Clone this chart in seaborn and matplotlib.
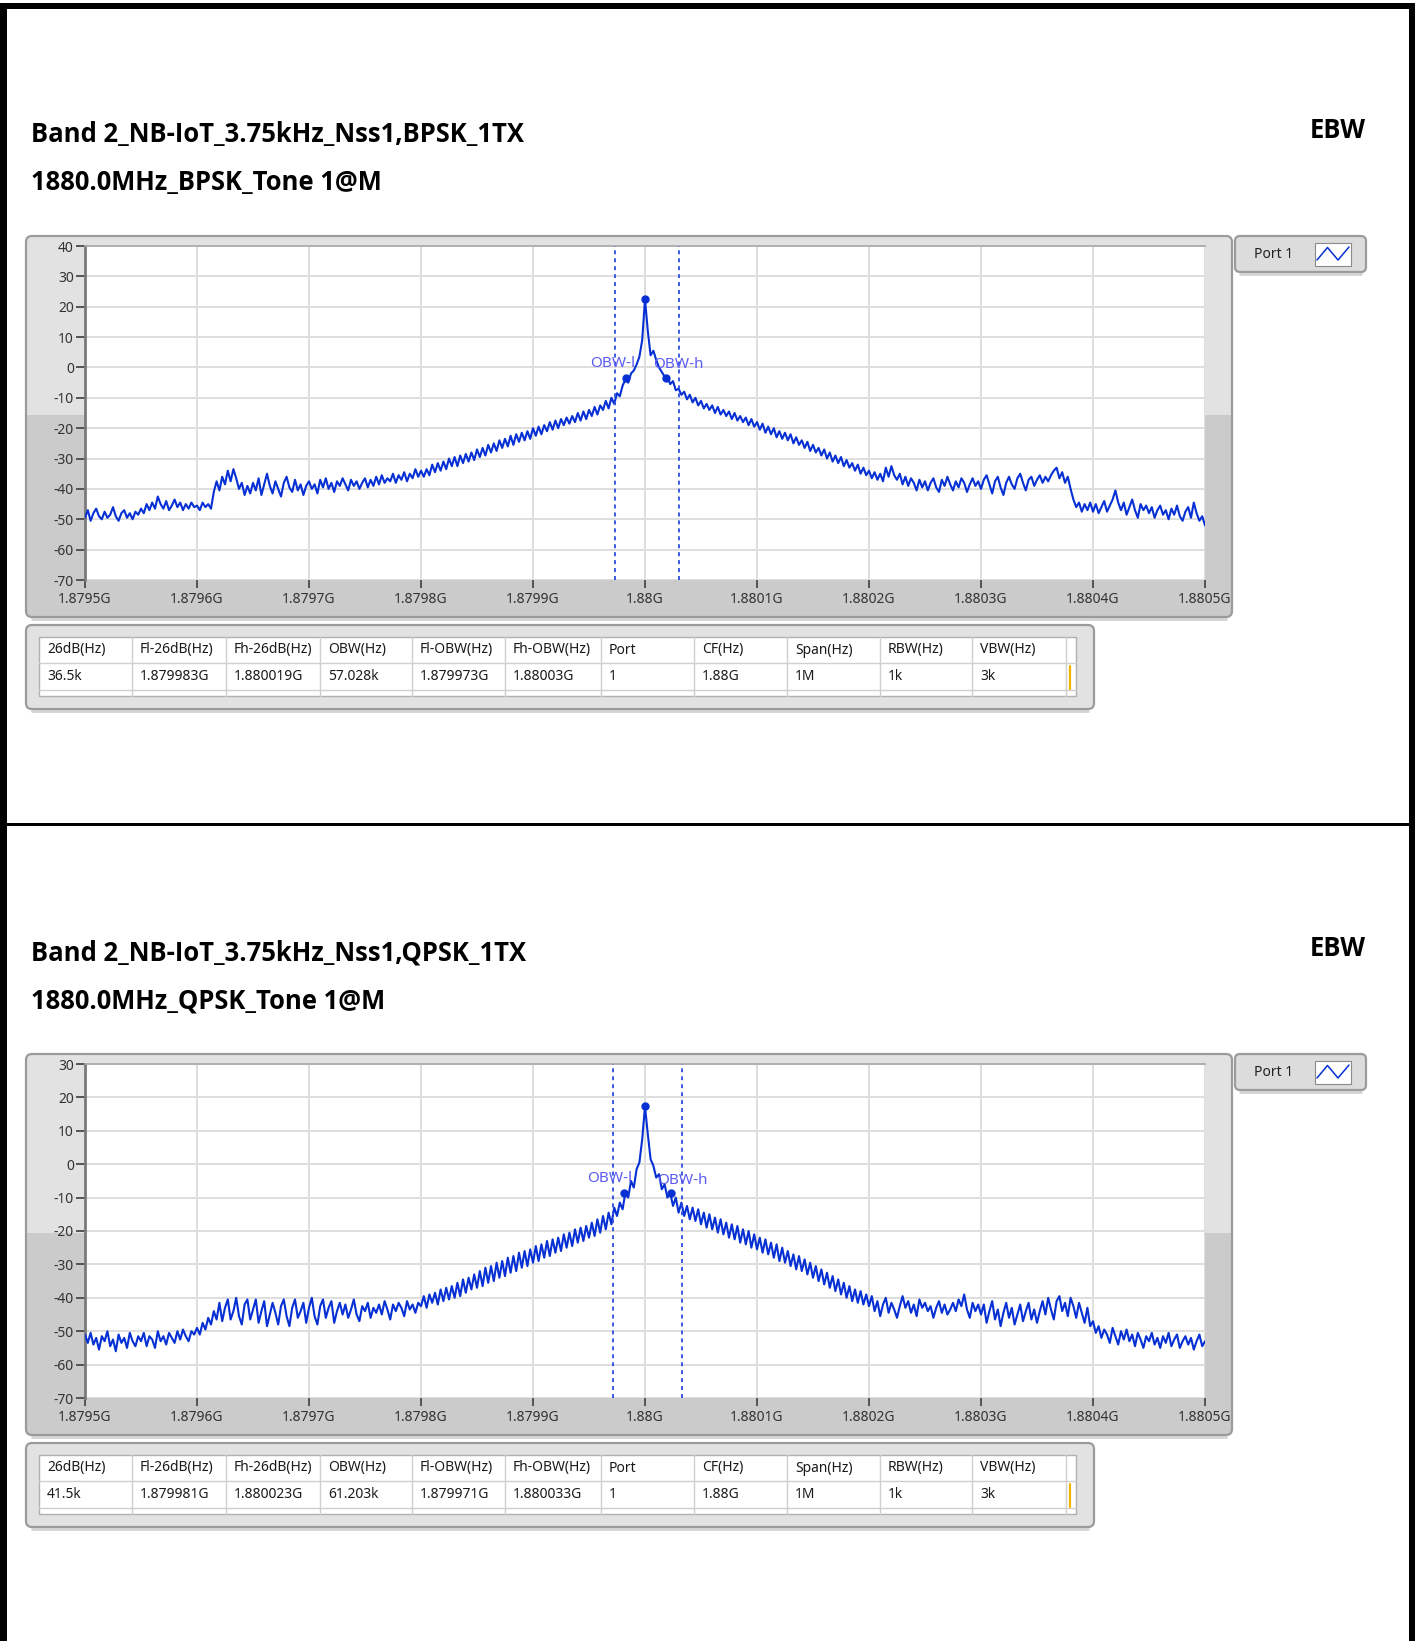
import numpy as np
import pandas as pd
import matplotlib
matplotlib.use("Agg")
import matplotlib.pyplot as plt
import seaborn as sns
from matplotlib.patches import FancyBboxPatch, Rectangle
from matplotlib import font_manager

# ---------------------------------------------------------------- data
CENTER_HZ = 1.88e9
FREQ_START_KHZ = -500.0
FREQ_STEP_KHZ = 2.5

x_tick_labels = ['1.8795G', '1.8796G', '1.8797G', '1.8798G', '1.8799G', '1.88G',
                 '1.8801G', '1.8802G', '1.8803G', '1.8804G', '1.8805G']
bpsk_y_ticks = [40, 30, 20, 10, 0, -10, -20, -30, -40, -50, -60, -70]
qpsk_y_ticks = [30, 20, 10, 0, -10, -20, -30, -40, -50, -60, -70]

table_header = ['26dB(Hz)', 'Fl-26dB(Hz)', 'Fh-26dB(Hz)', 'OBW(Hz)', 'Fl-OBW(Hz)',
                'Fh-OBW(Hz)', 'Port', 'CF(Hz)', 'Span(Hz)', 'RBW(Hz)', 'VBW(Hz)']
bpsk_table = ['36.5k', '1.879983G', '1.880019G', '57.028k', '1.879973G', '1.88003G',
              '1', '1.88G', '1M', '1k', '3k']
qpsk_table = ['41.5k', '1.879981G', '1.880023G', '61.203k', '1.879971G', '1.880033G',
              '1', '1.88G', '1M', '1k', '3k']

bpsk_title = ['Band 2_NB-IoT_3.75kHz_Nss1,BPSK_1TX', '1880.0MHz_BPSK_Tone 1@M']
qpsk_title = ['Band 2_NB-IoT_3.75kHz_Nss1,QPSK_1TX', '1880.0MHz_QPSK_Tone 1@M']

# trace levels (dBm), one point every 2.5 kHz from -500 kHz to +500 kHz
bpsk_level = [
    -49.5, -47.0, -50.5, -48.0, -46.5, -49.0, -50.0, -47.5, -49.5, -48.5, -46.0, -49.0, -50.5, -48.0, -47.0, -49.5, -48.0, -50.0, -47.5, -48.5,
    -46.5, -48.0, -45.0, -47.0, -44.5, -46.5, -42.5, -45.0, -46.5, -44.0, -47.0, -45.5, -43.5, -46.0, -44.5, -47.0, -45.0, -46.5, -44.5, -46.0,
    -45.5, -47.0, -44.5, -46.0, -45.0, -46.5, -41.0, -37.5, -40.5, -36.0, -38.5, -34.0, -37.5, -33.5, -36.5, -40.0, -38.0, -42.0, -39.0, -41.5,
    -38.0, -40.5, -36.5, -42.0, -38.5, -35.0, -39.0, -41.5, -37.5, -40.0, -42.5, -38.0, -36.0, -39.5, -41.0, -37.0, -40.5, -38.5, -42.0, -39.0,
    -37.5, -40.0, -38.5, -41.5, -37.0, -39.5, -36.5, -40.0, -38.0, -41.0, -37.5, -39.0, -36.5, -38.5, -40.5, -37.0, -39.0, -37.5, -40.0, -38.0,
    -36.5, -39.5, -37.0, -39.0, -36.0, -38.5, -35.5, -38.0, -36.5, -37.5, -35.0, -38.0, -35.5, -37.0, -34.5, -37.5, -35.0, -36.5, -33.5, -36.0,
    -34.0, -36.0, -33.5, -35.5, -32.0, -34.5, -31.5, -34.0, -31.0, -33.5, -30.0, -32.5, -29.5, -32.5, -29.0, -31.5, -28.5, -31.0, -28.0, -30.5,
    -27.0, -29.5, -26.5, -29.0, -25.5, -28.0, -25.0, -27.5, -24.0, -26.5, -23.5, -26.0, -22.5, -25.5, -22.0, -24.5, -21.5, -24.0, -21.0, -23.5,
    -20.0, -22.5, -19.5, -22.0, -19.0, -21.0, -18.0, -20.5, -17.5, -20.0, -17.0, -19.0, -16.5, -18.5, -16.0, -18.0, -15.0, -17.5, -14.5, -17.0,
    -14.0, -16.0, -13.0, -15.5, -12.5, -14.0, -11.0, -13.5, -10.0, -12.0, -8.5, -9.5, -6.0, -4.0, -5.0, -2.0, -1.0, 1.0, 3.5, 9.0,
    22.5, 12.0, 4.0, 5.5, 2.5, 0.0, -1.5, -3.0, -3.0, -5.5, -4.5, -7.5, -7.0, -9.0, -8.0, -10.5, -9.0, -11.5, -10.0, -12.5,
    -11.0, -13.5, -12.0, -14.0, -12.5, -15.0, -13.0, -15.5, -14.0, -16.0, -14.5, -17.0, -15.0, -17.5, -16.0, -18.0, -16.5, -19.0, -17.0, -19.5,
    -18.0, -20.5, -18.5, -21.5, -19.5, -22.0, -20.0, -23.0, -21.0, -23.5, -21.5, -24.0, -22.0, -25.0, -23.0, -25.5, -24.0, -26.5, -24.5, -27.5,
    -25.5, -28.0, -26.5, -29.0, -27.0, -30.0, -28.0, -31.0, -29.0, -31.5, -29.5, -32.5, -30.5, -33.0, -31.5, -34.0, -32.0, -35.0, -33.0, -35.5,
    -34.0, -36.5, -34.5, -37.0, -35.0, -37.5, -33.0, -36.0, -32.5, -35.5, -37.0, -35.0, -38.5, -36.0, -39.0, -36.5, -38.0, -40.5, -37.0, -39.5,
    -37.5, -40.5, -38.0, -36.5, -39.5, -41.0, -37.0, -39.0, -36.0, -38.5, -40.5, -37.5, -39.5, -36.5, -38.0, -41.0, -38.5, -36.5, -39.0, -37.5,
    -40.0, -37.0, -35.5, -38.5, -41.5, -37.5, -36.0, -39.5, -42.0, -38.0, -36.0, -38.5, -40.0, -36.5, -35.0, -38.0, -40.5, -37.0, -36.0, -39.0,
    -37.0, -35.5, -38.0, -36.0, -37.5, -35.5, -34.0, -33.0, -36.5, -34.5, -38.0, -36.0, -40.0, -43.5, -46.0, -44.5, -47.5, -45.0, -47.0, -44.5,
    -47.5, -45.0, -48.0, -46.0, -44.0, -47.5, -45.5, -43.5, -40.5, -44.5, -47.0, -44.5, -48.5, -46.0, -43.5, -47.0, -49.5, -45.0, -47.0, -45.5,
    -48.0, -46.0, -49.5, -47.0, -45.5, -48.5, -47.0, -50.0, -46.5, -48.5, -45.5, -49.0, -50.5, -47.5, -46.0, -49.5, -44.5, -48.0, -50.5, -49.0,
    -52.0,
]

qpsk_level = [
    -51.0, -53.5, -50.5, -54.0, -52.0, -55.5, -51.5, -53.0, -50.0, -54.5, -52.5, -56.0, -51.0, -53.5, -52.0, -55.0, -50.5, -53.0, -54.5, -51.5,
    -53.0, -50.5, -54.5, -51.5, -52.5, -55.0, -50.0, -53.0, -51.5, -54.0, -50.5, -52.0, -53.5, -50.0, -52.5, -49.5, -51.5, -53.0, -50.0, -51.0,
    -49.0, -51.0, -47.5, -49.5, -46.0, -48.0, -44.0, -46.5, -41.5, -47.0, -43.0, -40.5, -46.5, -44.0, -40.0, -45.5, -48.0, -42.0, -40.5, -46.5,
    -43.5, -40.5, -47.5, -44.0, -41.0, -48.5, -45.0, -41.5, -44.5, -48.0, -42.5, -40.5, -45.5, -48.5, -43.0, -40.5, -46.0, -44.0, -41.5, -47.5,
    -43.0, -40.0, -45.5, -48.0, -42.5, -40.5, -46.0, -43.0, -41.0, -47.5, -44.0, -41.5, -45.0, -42.0, -46.0, -43.5, -40.5, -45.0, -47.0, -42.5,
    -44.0, -41.5, -46.0, -43.0, -44.5, -42.0, -45.0, -41.0, -43.5, -46.5, -42.0, -44.0, -41.5, -43.0, -45.5, -41.0, -43.5, -42.0, -44.5, -41.5,
    -42.5, -39.5, -43.0, -39.0, -41.5, -38.5, -42.0, -37.5, -41.0, -37.0, -40.5, -36.5, -40.0, -35.5, -39.5, -34.5, -38.5, -34.0, -37.5, -33.0,
    -37.0, -32.0, -36.5, -31.0, -35.5, -30.5, -35.0, -29.5, -34.0, -29.0, -33.5, -28.0, -32.5, -27.5, -32.0, -26.5, -31.0, -26.0, -30.5, -25.5,
    -29.5, -24.5, -29.0, -24.0, -28.0, -23.0, -27.5, -22.5, -26.5, -22.0, -26.0, -21.0, -25.0, -20.5, -24.5, -19.5, -23.5, -19.0, -23.0, -18.5,
    -22.0, -17.5, -21.5, -16.5, -20.5, -15.5, -19.5, -14.5, -18.0, -13.0, -15.5, -11.5, -13.5, -8.5, -10.0, -5.0, -7.0, -1.5, 0.5, 7.5,
    17.3, 9.0, 1.5, -0.5, -4.0, -3.0, -7.5, -6.0, -10.0, -8.5, -12.5, -10.0, -14.5, -11.5, -15.5, -12.5, -16.5, -13.0, -17.0, -13.5,
    -18.0, -14.5, -19.0, -15.0, -19.5, -16.0, -20.5, -16.5, -21.0, -17.5, -22.0, -18.0, -22.5, -18.5, -23.5, -19.5, -24.0, -20.0, -25.0, -21.0,
    -25.5, -22.0, -26.5, -22.5, -27.0, -23.5, -28.0, -24.0, -29.0, -25.0, -29.5, -26.0, -30.5, -27.0, -31.5, -27.5, -32.0, -28.5, -33.0, -29.5,
    -34.0, -30.5, -35.0, -31.5, -36.0, -32.5, -37.0, -33.5, -38.0, -34.5, -39.0, -35.5, -40.0, -36.5, -41.0, -37.5, -41.5, -38.0, -42.0, -39.0,
    -42.5, -39.5, -44.0, -41.0, -45.5, -42.0, -40.0, -44.5, -41.5, -43.5, -46.0, -42.5, -39.5, -43.0, -41.0, -44.5, -42.0, -45.5, -40.5, -43.0,
    -41.5, -44.0, -42.5, -46.0, -43.0, -41.0, -44.5, -42.0, -45.0, -43.5, -41.5, -44.0, -40.5, -42.5, -39.0, -43.5, -46.0, -41.5, -44.0, -42.0,
    -45.0, -42.0, -47.5, -44.0, -41.0, -46.5, -43.5, -48.5, -44.5, -41.5, -46.0, -43.0, -48.0, -45.0, -42.0, -47.0, -44.0, -41.5, -46.5, -43.5,
    -47.5, -44.0, -41.0, -45.0, -40.0, -43.5, -46.5, -41.0, -39.5, -44.0, -41.5, -45.5, -40.0, -42.5, -46.0, -41.5, -44.5, -47.5, -43.0, -48.5,
    -47.0, -50.5, -48.5, -52.0, -49.5, -51.0, -53.5, -49.0, -51.5, -54.0, -50.0, -52.5, -49.5, -53.0, -51.0, -54.5, -50.5, -52.5, -55.0, -51.5,
    -53.0, -50.5, -54.0, -52.0, -55.0, -51.5, -53.5, -50.5, -54.5, -52.5, -51.0, -55.0, -53.0, -51.5, -54.0, -52.0, -55.5, -53.0, -51.0, -54.5,
    -53.0,
]

# ---------------------------------------------------------------- style
W, H = 1415, 1641
TRACE = '#0630d4'
MARK_TXT = '#5b5bf2'
DASH = '#2a4ee0'

sns.set_theme(style='white')
plt.rcParams['font.family'] = ['Noto Sans', 'DejaVu Sans']


def bold_family():
    # pick an installed family that really has a bold face
    for fam in ['Open Sans', 'Noto Sans', 'Lato', 'Roboto', 'Liberation Sans', 'DejaVu Sans']:
        for f in font_manager.fontManager.ttflist:
            if f.name == fam and f.weight in (700, 'bold') and f.style == 'normal':
                return fam
    return 'DejaVu Sans'


TITLE_FAMILY = bold_family()

fig = plt.figure(figsize=(W / 100, H / 100), dpi=100)
fig.patch.set_facecolor('white')
renderer = fig.canvas.get_renderer()

bg = fig.add_axes([0, 0, 1, 1], zorder=0)
bg.set_xlim(0, W)
bg.set_ylim(H, 0)
bg.axis('off')


def si(s):
    mult = {'G': 1e9, 'M': 1e6, 'k': 1e3}
    return float(s[:-1]) * mult[s[-1]] if s[-1] in mult else float(s)


def box(x0, y0, x1, y1):
    return [x0 / W, 1 - y1 / H, (x1 - x0) / W, (y1 - y0) / H]


def framed_box(x, y, w, h, split=None, light='#e2e2e2', dark='#cbcbcb', r=6):
    face = FancyBboxPatch((x, y), w, h, boxstyle=f'round,pad=0,rounding_size={r}',
                          fc=light, ec='none', zorder=1)
    bg.add_patch(face)
    if split is not None:
        low = Rectangle((x, split), w, y + h - split, fc=dark, ec='none', zorder=1.1)
        low.set_clip_path(face)
        bg.add_patch(low)
    bg.add_patch(FancyBboxPatch((x, y), w, h, boxstyle=f'round,pad=0,rounding_size={r}',
                                fc='none', ec='#9b9b9b', lw=1.6, zorder=1.2))
    # soft shadow along the bottom edge
    bg.plot([x + r, x + w - r], [y + h + 2, y + h + 2], color='#d4d4d4', lw=2, zorder=0.9)


# outer black frame and separator
for rect in [(0, 3, W, 6), (0, 3, 6.5, H), (W - 6, 3, 6, H), (0, 822.5, W, 3.5)]:
    bg.add_patch(Rectangle(rect[:2], rect[2], rect[3], fc='black', ec='none', zorder=5))

xticks_hz = [si(t) for t in x_tick_labels]
col_edges = [39, 132, 226, 320, 412, 505, 601, 694, 787, 880, 972, 1066, 1076]

title_size = None


def draw_panel(dy, titles, level, y_ticks, table_vals):
    global title_size
    tkw = dict(fontweight='bold', family=TITLE_FAMILY, color='black', va='center', ha='left', zorder=6)
    t1 = bg.text(31, 135 + dy, titles[0], fontsize=17, **tkw)
    if title_size is None:
        w = t1.get_window_extent(renderer).width
        title_size = 17 * 495 / w
    t1.set_fontsize(title_size)
    bg.text(31, 183 + dy, titles[1], fontsize=title_size, **tkw)
    bg.text(1310, 130 + dy, 'EBW', fontsize=title_size, **tkw)

    # graph frame
    framed_box(26, 236 + dy, 1206, 381, split=415 + dy)

    ax = fig.add_axes(box(85, 246 + dy, 1205, 580 + dy), zorder=3)
    ax.set_facecolor('white')
    offsets_khz = FREQ_START_KHZ + FREQ_STEP_KHZ * np.arange(len(level))
    df = pd.DataFrame({'freq': CENTER_HZ + offsets_khz * 1e3, 'level': level})
    sns.lineplot(data=df, x='freq', y='level', ax=ax, color=TRACE, lw=1.5,
                 estimator=None, sort=False, legend=False, zorder=4)
    ax.set_xlim(xticks_hz[0], xticks_hz[-1])
    ax.set_ylim(y_ticks[-1], y_ticks[0])
    ax.set_xticks(xticks_hz, labels=x_tick_labels)
    ax.set_yticks(y_ticks, labels=[str(v) for v in y_ticks])
    ax.set_xlabel('')
    ax.set_ylabel('')
    ax.grid(True, color='#dedede', lw=1.4)
    ax.set_axisbelow(True)
    for side in ['right', 'bottom']:
        ax.spines[side].set_visible(False)
    ax.spines['left'].set_color('#7a7a7a')
    ax.spines['left'].set_linewidth(2.0)
    ax.spines['top'].set_color('#a8a8a8')
    ax.spines['top'].set_linewidth(1.2)
    ax.tick_params(axis='y', length=6.5, width=1.3, color='#4a4a4a', pad=1.5,
                   labelsize=10, labelcolor='#333333', left=True)
    ax.tick_params(axis='x', length=5.5, width=1.3, color='#4a4a4a', pad=3,
                   labelsize=10, labelcolor='#333333', bottom=True)

    # OBW limits, peak and -26 dB points
    fl26, fh26 = si(table_vals[1]), si(table_vals[2])
    fl_obw, fh_obw = si(table_vals[4]), si(table_vals[5])
    peak = max(level)
    peak_f = df['freq'][df['level'].idxmax()]
    for f in (fl_obw, fh_obw):
        ax.axvline(f, color=DASH, lw=1.3, ls=(0, (2.2, 2.2)), zorder=5)
    ax.plot([peak_f], [peak], 'o', color=TRACE, ms=5, zorder=6)
    ax.plot([fl26, fh26], [peak - 26, peak - 26], 'o', color=TRACE, ms=5, zorder=6)
    ax.annotate('OBW-l', xy=(fl26, peak - 26), xytext=(6.5, 10.5), textcoords='offset points',
                ha='right', va='center', color=MARK_TXT, fontsize=11, zorder=7)
    ax.annotate('OBW-h', xy=(fh26, peak - 26), xytext=(-9.5, 9.5), textcoords='offset points',
                ha='left', va='center', color=MARK_TXT, fontsize=11, zorder=7)

    # plot legend
    framed_box(1235, 236 + dy, 131, 36, light='#dcdcdc', r=5)
    bg.text(1254, 254 + dy, 'Port 1', fontsize=10, color='#222222', va='center', ha='left', zorder=6)
    bg.add_patch(Rectangle((1315, 243 + dy), 36, 23, fc='white', ec='#8a8a8a', lw=0.8, zorder=6))
    bg.plot([1317, 1327.5, 1338, 1349], [260 + dy, 247.5 + dy, 260 + dy, 247 + dy],
            color=TRACE, lw=1.1, zorder=7)

    # results table
    framed_box(26, 625 + dy, 1068, 84, r=6)
    bg.add_patch(Rectangle((39, 637 + dy), 1037, 59, fc='white', ec='#b0b0b0', lw=1.0, zorder=2))
    for yy in (663, 690):
        bg.plot([39, 1076], [yy + dy, yy + dy], color='#cfcfcf', lw=1.0, zorder=2.5)
    for xx in col_edges[1:-1]:
        bg.plot([xx, xx], [637 + dy, 696 + dy], color='#cfcfcf', lw=1.0, zorder=2.5)
    for x0, head, val in zip(col_edges, table_header, table_vals):
        bg.text(x0 + 8, 650 + dy, head, fontsize=10, color='#1a1a1a', va='center', ha='left', zorder=3)
        bg.text(x0 + 8, 677 + dy, val, fontsize=10, color='#1a1a1a', va='center', ha='left', zorder=3)
    bg.plot([1070, 1070], [666 + dy, 689 + dy], color='#f0b400', lw=1.6, zorder=3)


draw_panel(0, bpsk_title, bpsk_level, bpsk_y_ticks, bpsk_table)
draw_panel(818, qpsk_title, qpsk_level, qpsk_y_ticks, qpsk_table)

fig.savefig('out.png', dpi=100, facecolor='white')
